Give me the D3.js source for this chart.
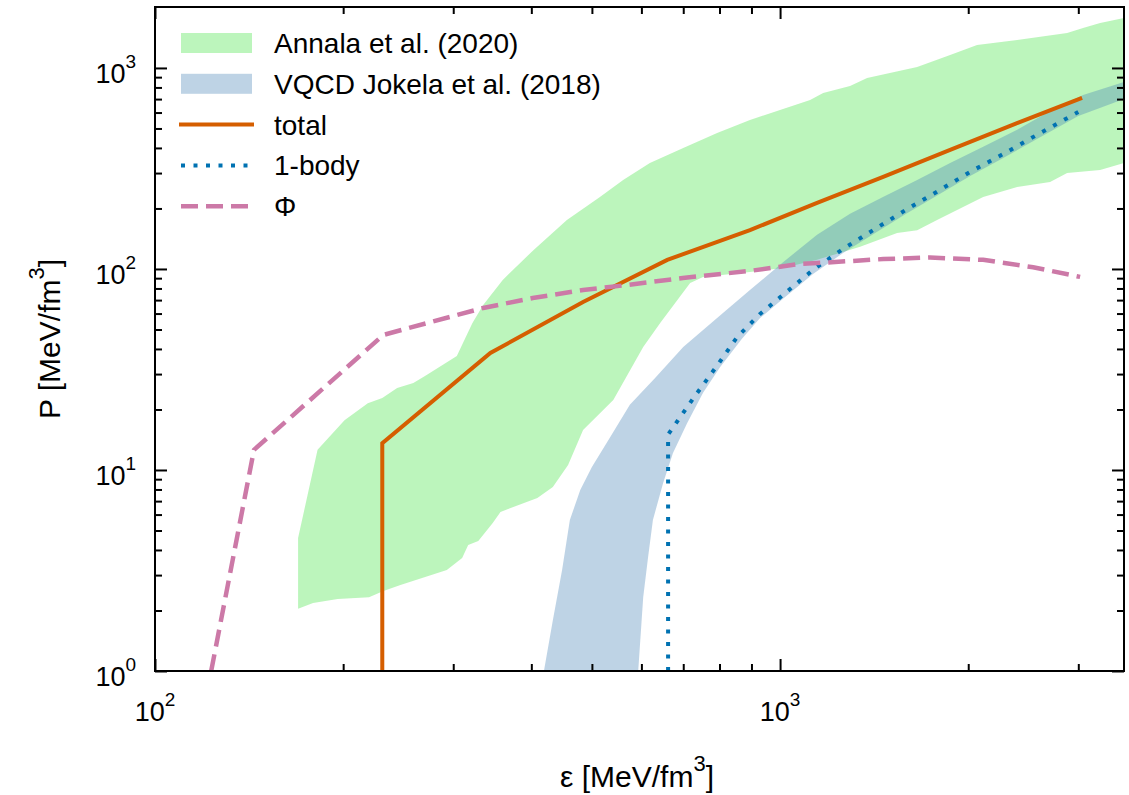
<!DOCTYPE html>
<html>
<head>
<meta charset="utf-8">
<script src="https://cdn.jsdelivr.net/npm/d3@7"></script>
<style>
  body { margin: 0; background: #fff; }
  text { font-family: "Liberation Sans", Arial, sans-serif; fill: #000; }
</style>
</head>
<body>
<svg id="chart" width="1129" height="795"></svg>
<script>
// bands: [epsilon, P] pairs, upper and lower edge
const annalaUpper = [[169.4,4.59],[182,12.6],[201,17.7],[219,21.5],[231,22.8],[244,25.6],[259,27.1],[272,29.7],[304,36.9],[322,53.9],[335,66.2],[360,88.2],[403,124],[456,175],[515,228],[561,277],[619,337],[700,400],[793,475],[895,551],[1011,625],[1117,693],[1172,751],[1294,814],[1378,892],[1657,1012],[1871,1161],[2066,1301],[2395,1378],[2879,1493],[3053,1581],[3251,1675],[3550,1774]];
const annalaLower = [[169.4,2.04],[179,2.18],[196,2.28],[220,2.33],[232,2.5],[247,2.68],[293,3.18],[310,3.65],[317,4.24],[329,4.43],[347,5.45],[357,6.18],[409,7.26],[433,8.23],[458,10.6],[484,15.8],[541,22.3],[604,40.9],[643,53.9],[718,85.2],[753,91.3],[895,96.6],[1011,101],[1146,111],[1343,129],[1539,151],[1657,156],[1783,175],[2113,228],[2395,256],[2704,271],[2879,300],[3251,311],[3550,337]];

const vqcdUpper = [[419,1],[433,1.79],[448,3.18],[461,5.64],[479,7.95],[500,10.35],[535,14.6],[575,21.1],[631,28.7],[700,40.9],[793,57.1],[895,78.6],[1011,108],[1146,148],[1294,188],[1461,228],[1657,277],[1871,337],[2113,405],[2395,492],[2704,611],[3053,734],[3550,852]];
const vqcdLower = [[593,1],[604,2.33],[615,3.69],[626,5.64],[650,8.62],[674,12.15],[710,17.1],[753,24.2],[802,32.5],[869,45],[929,57],[1011,71],[1129,94.5],[1261,120],[1409,149],[1591,188],[1789,233],[2014,290],[2275,356],[2559,438],[3000,577],[3550,700]];

// lines
const totalLine = [[231,1],[231,13.6],[344,38.2],[484,68.5],[660,111],[895,156],[1146,213],[1462,287],[1871,391],[2394,532],[3042,709]];
const oneBody = [[662,1],[662,15],[729,23.1],[790,32.5],[854,45.9],[929,59.7],[1011,74.3],[1129,98.9],[1261,125.8],[1409,156],[1591,197],[1789,244],[2014,304],[2275,373],[2559,459],[3000,604]];
const phiLine = [[123,1],[144,12.6],[232,47],[335,64],[402,71.7],[484,78.6],[569,83.2],[699,90.2],[895,97.8],[1076,106],[1146,107],[1462,112],[1738,114],[2113,111],[2540,102],[3020,91.3]];

// ticks
const xMajor = [100, 1000];
const xMinor = [200, 300, 400, 500, 600, 700, 800, 900, 2000, 3000];
const yMajor = [1, 10, 100, 1000];
const yMinor = [2, 3, 4, 5, 6, 7, 8, 9, 20, 30, 40, 50, 60, 70, 80, 90, 200, 300, 400, 500, 600, 700, 800, 900];

const legendLabels = ["Annala et al. (2020)", "VQCD Jokela et al. (2018)", "total", "1-body", "Φ"];

const margin = { top: 7, right: 5, bottom: 124, left: 155 };
const width = 1129 - margin.left - margin.right;
const height = 795 - margin.top - margin.bottom;

const svg = d3.select("#chart");
const g = svg.append("g").attr("transform", `translate(${margin.left},${margin.top})`);

const x = d3.scaleLog().domain([100, 3550]).range([0, width]);
const y = d3.scaleLog().domain([1, 2010]).range([height, 0]);

g.append("defs").append("clipPath").attr("id", "clip")
  .append("rect").attr("width", width).attr("height", height);

const plot = g.append("g").attr("clip-path", "url(#clip)");

const line = d3.line().x((d) => x(d[0])).y((d) => y(d[1]));
const band = (up, lo) => line(up.concat(lo.slice().reverse())) + "Z";

// Annala band
plot.append("path")
  .attr("d", band(annalaUpper, annalaLower))
  .attr("fill", "#90ee90")
  .attr("fill-opacity", 0.6);

// VQCD band
plot.append("path")
  .attr("d", band(vqcdUpper, vqcdLower))
  .attr("fill", "steelblue")
  .attr("fill-opacity", 0.35);

const styles = {
  total: { stroke: "#d55e00", width: 4, dash: null },
  body: { stroke: "#0072b2", width: 4, dash: "4,8.5" },
  phi: { stroke: "#cc79a7", width: 4.5, dash: "17,8" },
};

function drawLine(data, s) {
  plot.append("path")
    .datum(data)
    .attr("fill", "none")
    .attr("stroke", s.stroke)
    .attr("stroke-width", s.width)
    .attr("stroke-dasharray", s.dash)
    .attr("d", line);
}
drawLine(totalLine, styles.total);
drawLine(oneBody, styles.body);
drawLine(phiLine, styles.phi);

// axes, ticks all pointing inward
function addAxis(axis, tx, ty) {
  const a = g.append("g").attr("transform", `translate(${tx},${ty})`).call(axis);
  a.select(".domain").remove();
  a.selectAll(".tick line").attr("stroke", "#000").attr("stroke-width", 2);
  a.selectAll(".tick text").remove();
}
addAxis(d3.axisBottom(x).tickValues(xMajor).tickSize(-12).tickFormat(""), 0, height);
addAxis(d3.axisBottom(x).tickValues(xMinor).tickSize(-7).tickFormat(""), 0, height);
addAxis(d3.axisTop(x).tickValues(xMajor).tickSize(-12).tickFormat(""), 0, 0);
addAxis(d3.axisTop(x).tickValues(xMinor).tickSize(-7).tickFormat(""), 0, 0);
addAxis(d3.axisLeft(y).tickValues(yMajor).tickSize(-12).tickFormat(""), 0, 0);
addAxis(d3.axisLeft(y).tickValues(yMinor).tickSize(-7).tickFormat(""), 0, 0);
addAxis(d3.axisRight(y).tickValues(yMajor).tickSize(-12).tickFormat(""), width, 0);
addAxis(d3.axisRight(y).tickValues(yMinor).tickSize(-7).tickFormat(""), width, 0);

// frame
g.append("rect")
  .attr("width", width)
  .attr("height", height)
  .attr("fill", "none")
  .attr("stroke", "#000")
  .attr("stroke-width", 2);

// tick labels 10^n
function powLabel(sel, v) {
  sel.append("tspan").text("10");
  sel.append("tspan").attr("dy", -15).attr("font-size", 19).text(Math.round(Math.log10(v)));
}
xMajor.forEach((v) => {
  g.append("text")
    .attr("x", x(v))
    .attr("y", height + 50)
    .attr("text-anchor", "middle")
    .attr("font-size", 27)
    .call(powLabel, v);
});
yMajor.forEach((v) => {
  g.append("text")
    .attr("x", -19)
    .attr("y", y(v) + 15)
    .attr("text-anchor", "end")
    .attr("font-size", 27)
    .call(powLabel, v);
});

// axis titles
const xt = svg.append("text")
  .attr("x", 637)
  .attr("y", 787)
  .attr("text-anchor", "middle")
  .attr("font-size", 30);
xt.append("tspan").text("ε [MeV/fm");
xt.append("tspan").attr("dy", -16).attr("font-size", 22).text("3");
xt.append("tspan").attr("dy", 16).text("]");

const yt = svg.append("text")
  .attr("transform", "translate(60,339) rotate(-90)")
  .attr("text-anchor", "middle")
  .attr("font-size", 30);
yt.append("tspan").text("P [MeV/fm");
yt.append("tspan").attr("dy", -16).attr("font-size", 22).text("3");
yt.append("tspan").attr("dy", 16).text("]");

// legend
const legend = svg.append("g").attr("transform", "translate(181,43)");
const rowH = 40.8;
const swatches = [
  { fill: "#90ee90", op: 0.6 },
  { fill: "steelblue", op: 0.35 },
  styles.total,
  styles.body,
  styles.phi,
];
legendLabels.forEach((label, i) => {
  const row = legend.append("g").attr("transform", `translate(0,${i * rowH})`);
  const s = swatches[i];
  if (s.fill) {
    row.append("rect")
      .attr("x", 0).attr("y", -10)
      .attr("width", 71).attr("height", 20)
      .attr("fill", s.fill)
      .attr("fill-opacity", s.op);
  } else {
    row.append("line")
      .attr("x1", s.dash ? 0 : -2).attr("x2", s.dash ? 69 : 73)
      .attr("stroke", s.stroke)
      .attr("stroke-width", s.width)
      .attr("stroke-dasharray", s.dash);
  }
  row.append("text")
    .attr("x", 93)
    .attr("y", 10)
    .attr("font-size", 28)
    .text(label);
});
</script>
</body>
</html>
